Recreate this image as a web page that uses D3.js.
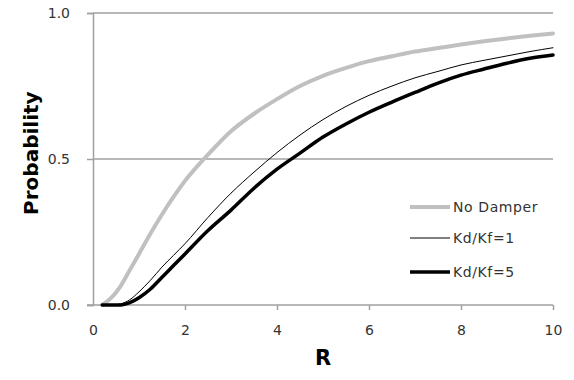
<!DOCTYPE html>
<html>
<head>
<meta charset="utf-8">
<script src="https://cdn.jsdelivr.net/npm/d3@7"></script>
<style>
  html, body { margin: 0; padding: 0; background: #fff; }
  svg { display: block; font-family: "DejaVu Sans", Verdana, sans-serif; }
</style>
</head>
<body>
<svg id="chart" width="574" height="380"></svg>
<script>
// R values shared by every curve
const rValues = [0.2, 0.4, 0.6, 0.8, 1.0, 1.25, 1.5, 1.75, 2, 2.5, 3, 3.5, 4, 4.5, 5, 5.5, 6, 6.5, 7, 7.5, 8, 8.5, 9, 9.5, 10];

// Probability for each damper setting
const noDamper = [0, 0.025, 0.065, 0.12, 0.175, 0.245, 0.31, 0.37, 0.425, 0.515, 0.595, 0.655, 0.705, 0.75, 0.785, 0.812, 0.835, 0.852, 0.868, 0.88, 0.892, 0.903, 0.913, 0.922, 0.93];
const kdKf1 = [0, 0, 0.004, 0.018, 0.045, 0.085, 0.13, 0.17, 0.21, 0.30, 0.383, 0.455, 0.522, 0.582, 0.635, 0.68, 0.718, 0.75, 0.778, 0.80, 0.822, 0.838, 0.853, 0.868, 0.881];
const kdKf5 = [0, 0, 0, 0.008, 0.025, 0.055, 0.095, 0.135, 0.175, 0.255, 0.325, 0.40, 0.465, 0.52, 0.575, 0.62, 0.66, 0.695, 0.728, 0.76, 0.787, 0.808, 0.828, 0.845, 0.856];

const seriesNames = ["No Damper", "Kd/Kf=1", "Kd/Kf=5"];
const xTicks = [0, 2, 4, 6, 8, 10];
const yTicks = [0, 0.5, 1.0];

const series = [
  { name: seriesNames[0], values: noDamper, color: "#c0c0c0", width: 4 },
  { name: seriesNames[1], values: kdKf1, color: "#000", width: 1 },
  { name: seriesNames[2], values: kdKf5, color: "#000", width: 3.5 }
];

const svg = d3.select("#chart");
const plotLeft = 93, plotRight = 553, plotTop = 13, plotBottom = 305;

const x = d3.scaleLinear().domain([0, 10]).range([plotLeft, plotRight]);
const y = d3.scaleLinear().domain([0, 1]).range([plotBottom, plotTop]);

const axisColor = "#a0a0a0";
const textColor = "#333";
const fontFamily = "DejaVu Sans, Verdana, sans-serif";

// horizontal gridlines
svg.append("g")
  .selectAll("line")
  .data(yTicks.filter(d => d > 0))
  .join("line")
  .attr("x1", plotLeft).attr("x2", plotRight)
  .attr("y1", d => y(d)).attr("y2", d => y(d))
  .attr("stroke", axisColor).attr("stroke-width", 1.5);

// y axis
const yAxis = svg.append("g")
  .attr("transform", `translate(${plotLeft},0)`)
  .call(d3.axisLeft(y).tickValues(yTicks).tickFormat(d3.format(".1f")).tickSize(6).tickPadding(17));
yAxis.select(".domain").attr("stroke", axisColor).attr("stroke-width", 1.5);
yAxis.selectAll(".tick line").attr("stroke", axisColor).attr("stroke-width", 1.5);
yAxis.selectAll(".tick text").attr("fill", textColor).attr("font-size", 14)
  .attr("font-family", fontFamily);

// x axis
const xAxis = svg.append("g")
  .attr("transform", `translate(0,${plotBottom})`)
  .call(d3.axisBottom(x).tickValues(xTicks).tickFormat(d3.format("d")).tickSize(5).tickPadding(15));
xAxis.select(".domain").attr("stroke", axisColor).attr("stroke-width", 1.5)
  .attr("d", `M${plotLeft - 6},0H${plotRight}`);
xAxis.selectAll(".tick line").attr("stroke", axisColor).attr("stroke-width", 1.5)
  .attr("y2", d => d === 0 ? 0 : 5);
xAxis.selectAll(".tick text").attr("fill", textColor).attr("font-size", 14)
  .attr("font-family", fontFamily);

// axis titles
svg.append("text")
  .attr("x", x(5)).attr("y", 365)
  .attr("text-anchor", "middle")
  .attr("font-size", 21).attr("font-weight", "bold").attr("fill", "#000")
  .attr("font-family", fontFamily)
  .text("R");

svg.append("text")
  .attr("transform", `translate(38,${y(0.52)}) rotate(-90)`)
  .attr("text-anchor", "middle")
  .attr("font-size", 20).attr("font-weight", "bold").attr("fill", "#000")
  .attr("font-family", fontFamily)
  .text("Probability");

// curves
const line = d3.line()
  .x((d, i) => x(rValues[i]))
  .y(d => y(d))
  .curve(d3.curveMonotoneX);

svg.append("g")
  .selectAll("path")
  .data(series)
  .join("path")
  .attr("d", s => line(s.values))
  .attr("fill", "none")
  .attr("stroke", s => s.color)
  .attr("stroke-width", s => s.width)
  .attr("stroke-linejoin", "round")
  .attr("stroke-linecap", "round");

// legend
const legendY = [207, 238, 272];
const legend = svg.append("g")
  .selectAll("g")
  .data(series)
  .join("g")
  .attr("transform", (s, i) => `translate(410,${legendY[i]})`);
legend.append("line")
  .attr("x1", 0).attr("x2", 40)
  .attr("stroke", s => s.color)
  .attr("stroke-width", s => s.width);
legend.append("text")
  .attr("x", 43).attr("dy", "0.36em")
  .attr("font-size", 14).attr("fill", textColor)
  .attr("letter-spacing", 0.6)
  .attr("font-family", fontFamily)
  .text(s => s.name);
</script>
</body>
</html>
